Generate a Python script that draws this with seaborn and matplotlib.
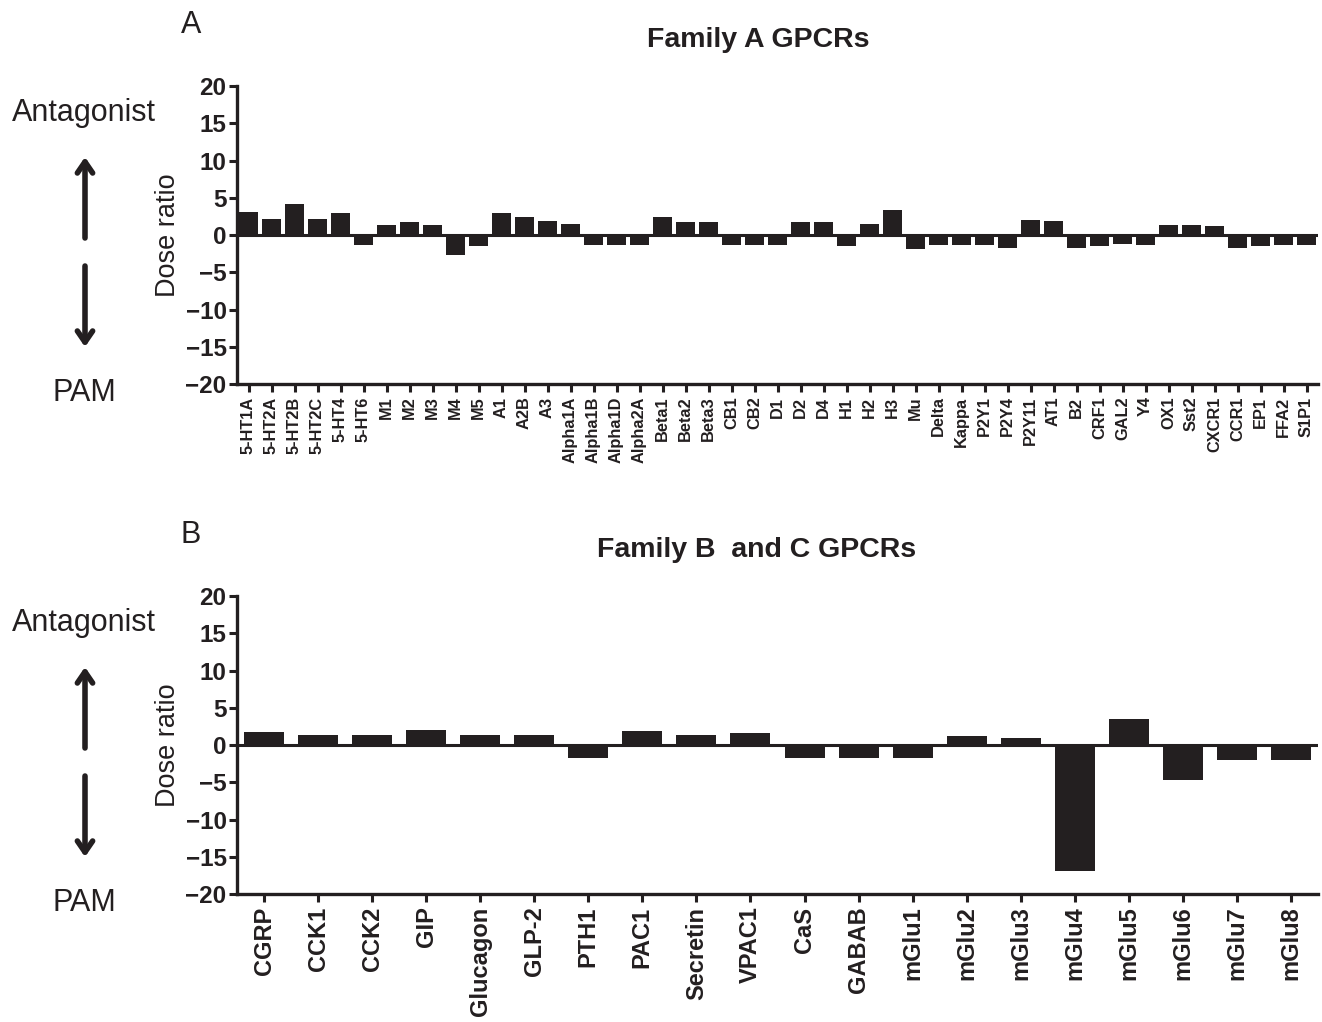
import matplotlib
matplotlib.use("Agg")
import matplotlib.pyplot as plt
import seaborn as sns
import pandas as pd

# ---- data ----
family_a_receptors = ["5-HT1A", "5-HT2A", "5-HT2B", "5-HT2C", "5-HT4", "5-HT6", "M1", "M2", "M3", "M4", "M5",
                      "A1", "A2B", "A3", "Alpha1A", "Alpha1B", "Alpha1D", "Alpha2A", "Beta1", "Beta2", "Beta3",
                      "CB1", "CB2", "D1", "D2", "D4", "H1", "H2", "H3", "Mu", "Delta", "Kappa", "P2Y1", "P2Y4",
                      "P2Y11", "AT1", "B2", "CRF1", "GAL2", "Y4", "OX1", "Sst2", "CXCR1", "CCR1", "EP1", "FFA2", "S1P1"]
family_a_dose_ratio = [3.1, 2.1, 4.2, 2.1, 3.0, -1.4, 1.4, 1.8, 1.4, -2.7, -1.5,
                       2.9, 2.4, 1.9, 1.5, -1.4, -1.4, -1.4, 2.4, 1.7, 1.7,
                       -1.4, -1.4, -1.4, 1.7, 1.7, -1.5, 1.5, 3.3, -1.9, -1.35, -1.35, -1.35, -1.7,
                       2.0, 1.9, -1.8, -1.5, -1.25, -1.35, 1.4, 1.35, 1.25, -1.7, -1.5, -1.4, -1.35]

family_bc_receptors = ["CGRP", "CCK1", "CCK2", "GIP", "Glucagon", "GLP-2", "PTH1", "PAC1", "Secretin", "VPAC1",
                       "CaS", "GABAB", "mGlu1", "mGlu2", "mGlu3", "mGlu4", "mGlu5", "mGlu6", "mGlu7", "mGlu8"]
family_bc_dose_ratio = [1.8, 1.35, 1.35, 2.0, 1.35, 1.35, -1.7, 1.9, 1.35, 1.55,
                        -1.8, -1.8, -1.8, 1.2, 1.0, -16.9, 3.5, -4.7, -2.0, -2.0]

y_ticks = [20, 15, 10, 5, 0, -5, -10, -15, -20]
titles = ["Family A GPCRs", "Family B  and C GPCRs"]
panel_letters = ["A", "B"]

# ---- style ----
sns.set_style("ticks")
plt.rcParams["font.family"] = ["Liberation Sans", "DejaVu Sans"]
INK = "#231f20"

W, H = 1322, 1022
fig = plt.figure(figsize=(W / 100, H / 100), dpi=100)

def fx(px):
    return px / W

def fy(py):
    return 1 - py / H

axA = fig.add_axes([fx(237), fy(384), fx(1081), 298 / H])
axB = fig.add_axes([fx(237), fy(894), fx(1081), 298 / H])

dfA = pd.DataFrame({"receptor": family_a_receptors, "ratio": family_a_dose_ratio})
dfB = pd.DataFrame({"receptor": family_bc_receptors, "ratio": family_bc_dose_ratio})

sns.barplot(data=dfA, x="receptor", y="ratio", color=INK, saturation=1, width=0.8,
            linewidth=0, ax=axA, errorbar=None)
sns.barplot(data=dfB, x="receptor", y="ratio", color=INK, saturation=1, width=0.74,
            linewidth=0, ax=axB, errorbar=None)

for ax, xfs in ((axA, 11.8), (axB, 17)):
    for p in ax.patches:
        p.set_facecolor(INK)
        p.set_edgecolor(INK)
    ax.set_ylim(-20, 20)
    ax.set_yticks(y_ticks)
    ax.set_xlim(-0.5, len(ax.get_xticks()) - 0.5)
    ax.axhline(0, color=INK, lw=2.2, zorder=0.5)
    ax.set_xlabel("")
    ax.set_ylabel("Dose ratio", fontsize=19.5, color=INK, labelpad=3)
    sns.despine(ax=ax)
    for s in ("left", "bottom"):
        ax.spines[s].set_linewidth(2.4)
        ax.spines[s].set_color(INK)
    ax.tick_params(axis="both", direction="out", length=6, width=2.2, color=INK)
    ax.tick_params(axis="y", labelsize=17.5, pad=1.5)
    ax.tick_params(axis="x", labelsize=xfs, pad=3)
    for lab in ax.get_yticklabels():
        lab.set_fontweight("bold")
        lab.set_color(INK)
    for lab in ax.get_xticklabels():
        lab.set_fontweight("bold")
        lab.set_rotation(90)
        lab.set_color(INK)

# titles and panel letters
fig.text(fx(758), fy(40), titles[0], ha="center", va="center", fontsize=20.5, fontweight="bold", color=INK)
fig.text(fx(757), fy(550), titles[1], ha="center", va="center", fontsize=20.5, fontweight="bold", color=INK)
fig.text(fx(191), fy(25), panel_letters[0], ha="center", va="center", fontsize=22, color=INK)
fig.text(fx(191), fy(535), panel_letters[1], ha="center", va="center", fontsize=22, color=INK)

# side annotations with arrows
for top in (0, 510):
    fig.text(fx(84), fy(113 + top), "Antagonist", ha="center", va="center", fontsize=22, color=INK)
    fig.text(fx(84), fy(393 + top), "PAM", ha="center", va="center", fontsize=22, color=INK)
    fig.add_artist(matplotlib.patches.FancyArrowPatch(
        (fx(85), fy(238 + top)), (fx(85), fy(157 + top)), transform=fig.transFigure,
        arrowstyle="->,head_length=8,head_width=5.5", lw=4, color=INK, shrinkA=0, shrinkB=0))
    fig.add_artist(matplotlib.patches.FancyArrowPatch(
        (fx(85), fy(266 + top)), (fx(85), fy(347 + top)), transform=fig.transFigure,
        arrowstyle="->,head_length=8,head_width=5.5", lw=4, color=INK, shrinkA=0, shrinkB=0))

fig.savefig("out.png", dpi=100)
